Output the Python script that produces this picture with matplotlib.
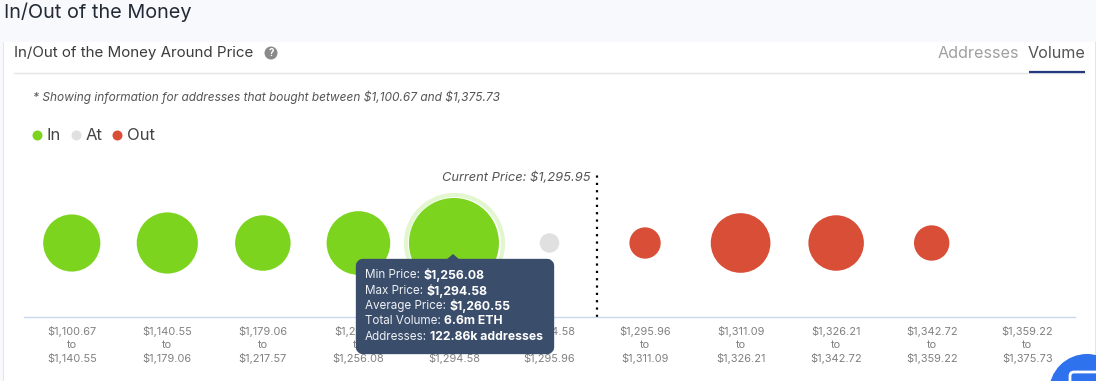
"""
In/Out of the Money around price: bubble row with hover tooltip.
"""

import numpy as np
import matplotlib
matplotlib.use('Agg')
import matplotlib.pyplot as plt
from matplotlib.patches import FancyBboxPatch, Polygon, Circle, Rectangle

plt.rcParams['font.family'] = ['Inter', 'Noto Sans', 'DejaVu Sans']
plt.rcParams['text.parse_math'] = False

# price bands
band_low = ['$1,100.67', '$1,140.55', '$1,179.06', '$1,217.57', '$1,256.08', '$1,294.58',
            '$1,295.96', '$1,311.09', '$1,326.21', '$1,342.72', '$1,359.22']
band_high = ['$1,140.55', '$1,179.06', '$1,217.57', '$1,256.08', '$1,294.58', '$1,295.96',
             '$1,311.09', '$1,326.21', '$1,342.72', '$1,359.22', '$1,375.73']

# volume per band in million ETH (6.6m known from tooltip)
volume = [2.66, 3.05, 2.51, 3.3, 6.6, 0.31, 0.8, 2.9, 2.51, 1.02, 0.0]
status = ['In', 'In', 'In', 'In', 'In', 'At', 'Out', 'Out', 'Out', 'Out', 'Out']

tooltip_labels = ['Min Price:', 'Max Price:', 'Average Price:', 'Total Volume:', 'Addresses:']
tooltip_values = ['$1,256.08', '$1,294.58', '$1,260.55', '6.6m ETH', '122.86k addresses']

colors = {'In': '#7cd41f', 'At': '#e0e0e0', 'Out': '#d94e37'}
W, H = 1096, 381

fig = plt.figure(figsize=(W / 100, H / 100), dpi=100, facecolor='white')

# Chart axes
ax = fig.add_axes([24 / W, 1 - 317 / H, 1051 / W, 146 / H])
ax.set_xlim(-0.5, 10.5)
ax.set_ylim(-74, 72)
ax.patch.set_alpha(0)
for side in ['top', 'left', 'right']:
    ax.spines[side].set_visible(False)
ax.spines['bottom'].set_color('#c9d8ee')
ax.spines['bottom'].set_linewidth(1.0)
ax.set_yticks([])
x = np.arange(len(volume))
ax.set_xticks(x)
ax.set_xticklabels([f'{a}\nto\n{b}' for a, b in zip(band_low, band_high)],
                   fontsize=7.9, color='#808080', linespacing=1.38)
ax.tick_params(axis='x', length=0, pad=6.5)

# area of the 6.6m bubble is r=45px
k = (2 * 45 * 0.72) ** 2 / 6.6
sizes = np.array(volume) * k
ax.scatter([4], [0], s=(2 * 48.5 * 0.72) ** 2, facecolor='white', edgecolor='#e2f6cf', linewidth=3, zorder=2)
ax.scatter(x, np.zeros_like(x), s=sizes, c=[colors[st] for st in status], linewidth=0, zorder=3)
ax.axvline(5.5, color='black', linestyle=(0, (1, 2.3)), linewidth=1.6, zorder=1)
ax.text(5.43, 65.5, 'Current Price: $1,295.95', ha='right', va='center', style='italic',
        fontsize=9.3, color='#555555')

# Page chrome in pixel coordinates
ov = fig.add_axes([0, 0, 1, 1], zorder=5)
ov.set_xlim(0, W)
ov.set_ylim(H, 0)
ov.axis('off')
ov.patch.set_alpha(0)

ov.add_patch(Rectangle((0, 0), W, 42, facecolor='#f8f9fd', edgecolor='none'))
ov.add_patch(Rectangle((0, 42), 3, H, facecolor='#f8f9fd', edgecolor='none'))
ov.add_patch(Rectangle((3, 42), 1, H, facecolor='#e4e4e4', edgecolor='none'))
ov.add_patch(Rectangle((1095, 42), 1, H, facecolor='#e4e4e4', edgecolor='none'))
ov.text(4, 12.5, 'In/Out of the Money', fontsize=14.3, color='#222a35', va='center')
ov.text(14, 52.5, 'In/Out of the Money Around Price', fontsize=10.9, color='#3c3c3c', va='center')
ov.add_patch(Circle((271, 53), 6.5, facecolor='#8a8a8a', edgecolor='none'))
ov.text(271, 53, '?', fontsize=7, fontweight='bold', color='white', ha='center', va='center')
ov.plot([14, 1085], [73, 73], color='#e3e5e8', linewidth=1)
ov.text(1019, 53.5, 'Addresses', fontsize=11.6, color='#a0a0a0', ha='right', va='center')
ov.text(1085, 53.5, 'Volume', fontsize=11.6, color='#555555', ha='right', va='center')
ov.plot([1029, 1085], [72, 72], color='#24397f', linewidth=1.6, solid_capstyle='butt')
ov.text(33, 97, '* Showing information for addresses that bought between $1,100.67 and $1,375.73',
        fontsize=8.56, style='italic', color='#555555', va='center')

# Legend
for lx, name in zip([37, 76, 117], ['In', 'At', 'Out']):
    ov.scatter([lx], [135], s=(10 * 0.72) ** 2, color=colors[name], linewidth=0)
    ov.text(lx + 10, 136, name, fontsize=12, color='#444444', va='center')

# Tooltip
ov.add_patch(FancyBboxPatch((360, 263), 190, 87, boxstyle='round,pad=0,rounding_size=3',
                            mutation_aspect=1, facecolor='#3a4d6b', edgecolor='#3a4d6b', linewidth=6,
                            joinstyle='round'))
ov.add_patch(Polygon([[446, 260], [453, 254], [460, 260]], closed=True, facecolor='#3a4d6b', edgecolor='none'))
fig.canvas.draw()
rend = fig.canvas.get_renderer()
for yy, lab, val in zip([275.5, 290.5, 306, 321, 336.5], tooltip_labels, tooltip_values):
    t = ov.text(365, yy, lab, fontsize=8.4, color='#eef1f5', va='center')
    bb = t.get_window_extent(rend)
    ov.text(365 + bb.width + 3.5, yy, val, fontsize=8.8, fontweight='bold', color='white', va='center')

# Chat button, clipped by the page edge
ov.add_patch(Circle((1087, 392), 38, facecolor='#2e72ee', edgecolor='none'))
ov.add_patch(FancyBboxPatch((1070, 372), 30, 20, boxstyle='round,pad=0,rounding_size=4',
                            facecolor='#2e72ee', edgecolor='white', linewidth=2))

fig.savefig('out.png', dpi=100)
